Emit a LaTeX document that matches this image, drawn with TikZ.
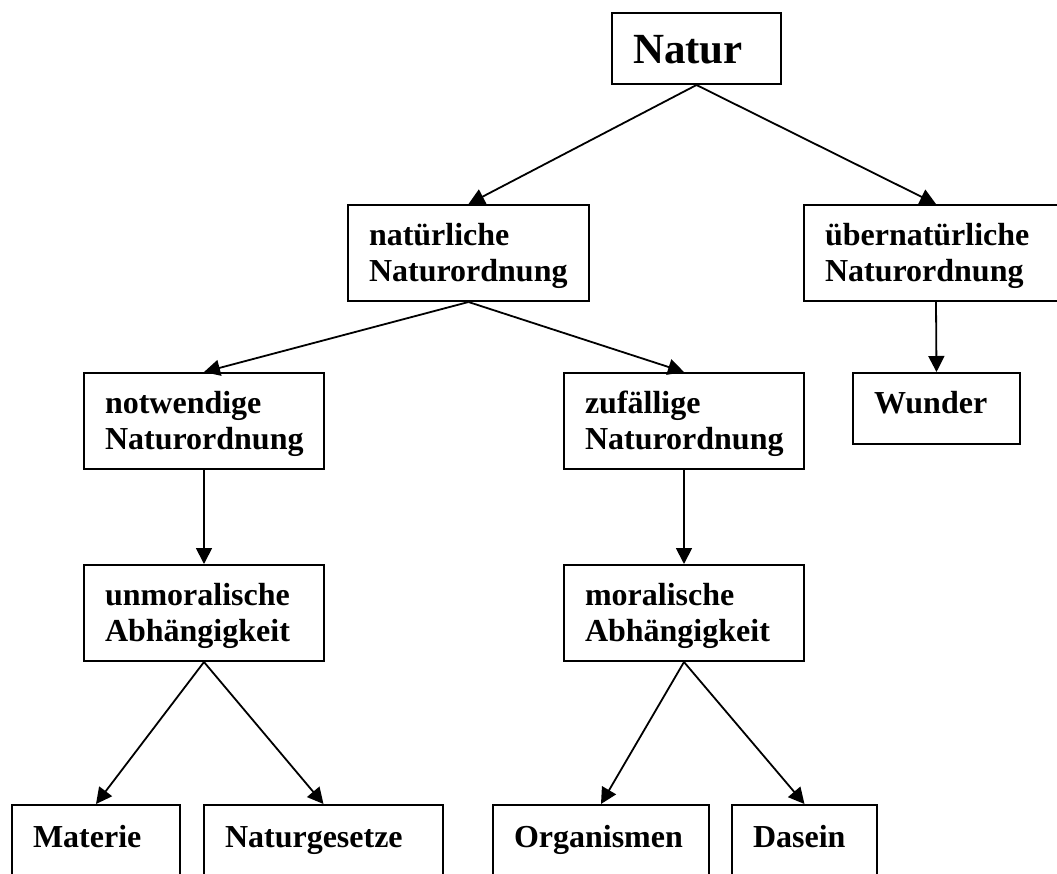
\documentclass[tikz,border=0pt]{standalone}
\usepackage{fontspec}
\setmainfont{Liberation Serif}
\usepackage{tikz}
\usetikzlibrary{arrows.meta}
\tikzset{
  kasten/.style={rectangle,draw=black,line width=1pt,anchor=north west,
    align=left,inner xsep=10.5pt,inner ysep=9.5pt,text height=10.5pt,
    font=\fontsize{16pt}{18.25pt}\selectfont\bfseries},
  zwei/.style={kasten,text depth=18.5pt},
  eins/.style={kasten,text depth=6pt},
  offen/.style={kasten,inner ysep=10.5pt,text depth=50pt},
  pfeil/.style={-{Triangle[length=8pt,width=8pt]},line width=0.9pt},
}

\begin{document}
\begin{tikzpicture}[x=0.5pt,y=-0.5pt]
  \clip (0,0) rectangle (1057,874);
  % oberste Ebene
  \node[kasten,inner ysep=10.5pt,text height=14.5pt,text depth=0pt,text width=63.5pt,
    font=\fontsize{21.5pt}{25pt}\selectfont\bfseries] (natur) at (611,12) {Natur};
  \node[zwei,text width=99.5pt] (natuerlich) at (347,204) {natürliche\\Naturordnung};
  \node[zwei,text width=111pt] (ueber) at (803,204) {übernatürliche\\Naturordnung};
  % zweite Ebene
  \node[zwei,text width=99pt] (notwendig) at (83,372) {notwendige\\Naturordnung};
  \node[zwei,text width=99pt] (zufaellig) at (563,372) {zufällige\\Naturordnung};
  \node[eins,text width=62.5pt] (wunder) at (852,372) {Wunder};
  \node[zwei,text width=99pt] (unmoral) at (83,564) {unmoralische\\Abhängigkeit};
  \node[zwei,text width=99pt] (moral) at (563,564) {moralische\\Abhängigkeit};
  % unten, abgeschnitten
  \node[offen,text width=63pt] (materie) at (11,804) {Materie};
  \node[offen,text width=98.5pt] (gesetze) at (203,804) {Naturgesetze};
  \node[offen,text width=87pt] (organ) at (492,804) {Organismen};
  \node[offen,text width=51.5pt] (dasein) at (731,804) {Dasein};
  % Pfeile
  \draw[pfeil] (natur.south) -- (natuerlich.north);
  \draw[pfeil] (natur.south) -- (ueber.north);
  \draw[pfeil] (natuerlich.south) -- (notwendig.north);
  \draw[pfeil] (natuerlich.south) -- (zufaellig.north);
  \draw[pfeil] (ueber.south) -- (wunder.north);
  \draw[pfeil] (notwendig.south) -- (unmoral.north);
  \draw[pfeil] (zufaellig.south) -- (moral.north);
  \draw[pfeil] (unmoral.south) -- (materie.north);
  \draw[pfeil] (unmoral.south) -- (gesetze.north);
  \draw[pfeil] (moral.south) -- (organ.north);
  \draw[pfeil] (moral.south) -- (dasein.north);
\end{tikzpicture}
\end{document}
